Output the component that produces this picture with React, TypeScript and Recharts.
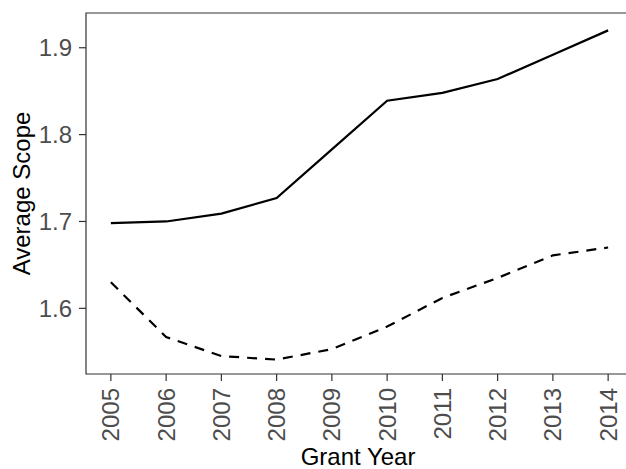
import { LineChart, Line, XAxis, YAxis, ReferenceArea, Label } from 'recharts';

const years = [2005, 2006, 2007, 2008, 2009, 2010, 2011, 2012, 2013, 2014];
const solidScope = [1.698, 1.7, 1.709, 1.727, 1.783, 1.839, 1.848, 1.864, 1.892, 1.92];
const dashedScope = [1.63, 1.567, 1.545, 1.541, 1.553, 1.579, 1.612, 1.635, 1.661, 1.67];
const yTicks = [1.6, 1.7, 1.8, 1.9];

const X_DOMAIN: [number, number] = [2004.55, 2014.45];
const Y_DOMAIN: [number, number] = [1.5244, 1.94];

const FONT = '"Liberation Sans", Arial, sans-serif';
const TICK_GRAY = '#4d4d4d';
const BORDER = '#333333';

const chartData = years.map((year, i) => ({
  year,
  solid: solidScope[i],
  dashed: dashedScope[i],
}));

// rotated year labels hanging under the axis
function YearTick({ x, y, payload }: any) {
  return (
    <text
      transform={`translate(${x},${y}) rotate(-90)`}
      textAnchor="end"
      dominantBaseline="central"
      fill={TICK_GRAY}
      style={{ fontFamily: FONT, fontSize: 24 }}
    >
      {payload.value}
    </text>
  );
}

export default function App() {
  return (
    <div style={{ position: 'absolute', left: 0, top: 0, width: 626, height: 469, background: '#fff' }}>
      <LineChart
        width={626}
        height={469}
        data={chartData}
        margin={{ top: 13, right: -7, bottom: 0, left: 0 }}
      >
        <XAxis
          dataKey="year"
          type="number"
          domain={X_DOMAIN}
          ticks={years}
          allowDataOverflow
          height={95}
          axisLine={false}
          tickLine={{ stroke: BORDER, strokeWidth: 1.2 }}
          tickSize={7}
          tickMargin={7}
          tick={<YearTick />}
          interval={0}
        >
          <Label
            content={() => (
              <text
                x={358}
                y={464.5}
                textAnchor="middle"
                fill="#000"
                style={{ fontFamily: FONT, fontSize: 24 }}
              >
                Grant Year
              </text>
            )}
          />
        </XAxis>
        <YAxis
          type="number"
          domain={Y_DOMAIN}
          ticks={yTicks}
          allowDataOverflow
          width={86}
          axisLine={false}
          tickLine={{ stroke: BORDER, strokeWidth: 1.2 }}
          tickSize={7}
          tickMargin={7}
          tickFormatter={(v: number) => v.toFixed(1)}
          tick={{ fill: TICK_GRAY, fontSize: 24, fontFamily: FONT }}
        >
          <Label
            content={() => (
              <text
                transform="translate(30,193.5) rotate(-90)"
                textAnchor="middle"
                fill="#000"
                style={{ fontFamily: FONT, fontSize: 24 }}
              >
                Average Scope
              </text>
            )}
          />
        </YAxis>
        {/* panel border */}
        <ReferenceArea
          x1={X_DOMAIN[0]}
          x2={X_DOMAIN[1]}
          y1={Y_DOMAIN[0]}
          y2={Y_DOMAIN[1]}
          fill="none"
          stroke={BORDER}
          strokeWidth={1.2}
          ifOverflow="visible"
        />
        <Line
          type="linear"
          dataKey="solid"
          stroke="#000"
          strokeWidth={2.2}
          dot={false}
          activeDot={false}
          isAnimationActive={false}
        />
        <Line
          type="linear"
          dataKey="dashed"
          stroke="#000"
          strokeWidth={2.2}
          strokeDasharray="10 8"
          dot={false}
          activeDot={false}
          isAnimationActive={false}
        />
      </LineChart>
    </div>
  );
}
